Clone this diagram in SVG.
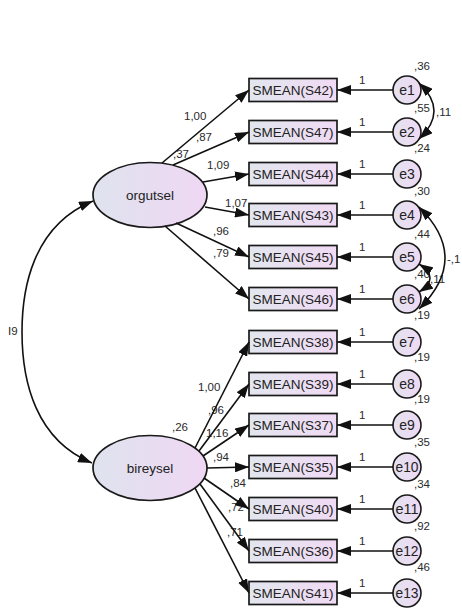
<svg xmlns="http://www.w3.org/2000/svg" width="462" height="613" viewBox="0 0 462 613">
<defs>
<linearGradient id="gb" x1="0" y1="0" x2="1" y2="0"><stop offset="0" stop-color="#e2e6ee"/><stop offset="1" stop-color="#f0daf4"/></linearGradient>
<linearGradient id="ge" x1="0" y1="0" x2="1" y2="0"><stop offset="0" stop-color="#dfe3ee"/><stop offset="1" stop-color="#efd7f4"/></linearGradient>
<linearGradient id="gc" x1="0" y1="0" x2="1" y2="0"><stop offset="0" stop-color="#e4e2f0"/><stop offset="1" stop-color="#eed9f3"/></linearGradient>
<marker id="ah" markerUnits="userSpaceOnUse" markerWidth="14" markerHeight="10" refX="14" refY="5" orient="auto-start-reverse"><path d="M0,0 L14,5 L0,10 z" fill="#111"/></marker>
<style>
.box{fill:url(#gb);stroke:#1a1a1a;stroke-width:1.7}
.lat{fill:url(#ge);stroke:#1a1a1a;stroke-width:1.7}
.err{fill:url(#gc);stroke:#1a1a1a;stroke-width:1.6}
.t{font-family:"Liberation Sans",Arial,sans-serif;font-size:13.5px;fill:#222;text-anchor:middle}
.e{font-family:"Liberation Sans",Arial,sans-serif;font-size:14px;fill:#222;text-anchor:middle}
.n{font-family:"Liberation Sans",Arial,sans-serif;font-size:11.5px;fill:#2a2a2a}
.a{fill:none;stroke:#111;stroke-width:1.6;marker-end:url(#ah)}
.d{fill:none;stroke:#111;stroke-width:1.6;marker-start:url(#ah);marker-end:url(#ah)}
</style>
</defs>
<rect width="462" height="613" fill="#ffffff"/>

<g id="orgutsel"><ellipse class="lat" cx="150" cy="195" rx="57" ry="32.5"/><text class="t" x="150" y="199.5">orgutsel</text></g>
<g id="bireysel"><ellipse class="lat" cx="150" cy="468" rx="57" ry="32.5"/><text class="t" x="150" y="472.5">bireysel</text></g>

<g id="S42"><rect class="box" x="249" y="78.5" width="88" height="23"/><text class="t" x="293" y="95">SMEAN(S42)</text></g>
<g id="S47"><rect class="box" x="249" y="120.5" width="88" height="23"/><text class="t" x="293" y="137">SMEAN(S47)</text></g>
<g id="S44"><rect class="box" x="249" y="162.5" width="88" height="23"/><text class="t" x="293" y="179">SMEAN(S44)</text></g>
<g id="S43"><rect class="box" x="249" y="203.5" width="88" height="23"/><text class="t" x="293" y="220">SMEAN(S43)</text></g>
<g id="S45"><rect class="box" x="249" y="245.5" width="88" height="23"/><text class="t" x="293" y="262">SMEAN(S45)</text></g>
<g id="S46"><rect class="box" x="249" y="287.5" width="88" height="23"/><text class="t" x="293" y="304">SMEAN(S46)</text></g>
<g id="S38"><rect class="box" x="249" y="330.5" width="88" height="23"/><text class="t" x="293" y="347">SMEAN(S38)</text></g>
<g id="S39"><rect class="box" x="249" y="372.5" width="88" height="23"/><text class="t" x="293" y="389">SMEAN(S39)</text></g>
<g id="S37"><rect class="box" x="249" y="413.5" width="88" height="23"/><text class="t" x="293" y="430">SMEAN(S37)</text></g>
<g id="S35"><rect class="box" x="249" y="455.5" width="88" height="23"/><text class="t" x="293" y="472">SMEAN(S35)</text></g>
<g id="S40"><rect class="box" x="249" y="497.5" width="88" height="23"/><text class="t" x="293" y="514">SMEAN(S40)</text></g>
<g id="S36"><rect class="box" x="249" y="539.5" width="88" height="23"/><text class="t" x="293" y="556">SMEAN(S36)</text></g>
<g id="S41"><rect class="box" x="249" y="581.5" width="88" height="23"/><text class="t" x="293" y="598">SMEAN(S41)</text></g>

<g id="e1"><circle class="err" cx="407" cy="90" r="14"/><text class="e" x="407" y="95">e1</text></g>
<g id="e2"><circle class="err" cx="407" cy="132" r="14"/><text class="e" x="407" y="137">e2</text></g>
<g id="e3"><circle class="err" cx="407" cy="174" r="14"/><text class="e" x="407" y="179">e3</text></g>
<g id="e4"><circle class="err" cx="407" cy="215" r="14"/><text class="e" x="407" y="220">e4</text></g>
<g id="e5"><circle class="err" cx="407" cy="257" r="14"/><text class="e" x="407" y="262">e5</text></g>
<g id="e6"><circle class="err" cx="407" cy="299" r="14"/><text class="e" x="407" y="304">e6</text></g>
<g id="e7"><circle class="err" cx="407" cy="342" r="14"/><text class="e" x="407" y="347">e7</text></g>
<g id="e8"><circle class="err" cx="407" cy="384" r="14"/><text class="e" x="407" y="389">e8</text></g>
<g id="e9"><circle class="err" cx="407" cy="425" r="14"/><text class="e" x="407" y="430">e9</text></g>
<g id="e10"><circle class="err" cx="407" cy="467" r="14"/><text class="e" x="407" y="472" textLength="23" lengthAdjust="spacingAndGlyphs">e10</text></g>
<g id="e11"><circle class="err" cx="407" cy="509" r="14"/><text class="e" x="407" y="514" textLength="23" lengthAdjust="spacingAndGlyphs">e11</text></g>
<g id="e12"><circle class="err" cx="407" cy="551" r="14"/><text class="e" x="407" y="556" textLength="23" lengthAdjust="spacingAndGlyphs">e12</text></g>
<g id="e13"><circle class="err" cx="407" cy="593" r="14"/><text class="e" x="407" y="598" textLength="23" lengthAdjust="spacingAndGlyphs">e13</text></g>

<g id="labels">
<text class="n" x="173" y="158">,37</text>
<text class="n" x="172" y="431">,26</text>
<text class="n" x="184" y="120">1,00</text>
<text class="n" x="196" y="141">,87</text>
<text class="n" x="207" y="169">1,09</text>
<text class="n" x="225" y="207">1,07</text>
<text class="n" x="213" y="235">,96</text>
<text class="n" x="213" y="257">,79</text>
<text class="n" x="198" y="391">1,00</text>
<text class="n" x="208" y="414">,96</text>
<text class="n" x="206" y="437">1,16</text>
<text class="n" x="213" y="461">,94</text>
<text class="n" x="230" y="487">,84</text>
<text class="n" x="228" y="511">,72</text>
<text class="n" x="227" y="536">,71</text>
<text class="n" x="8" y="335">I9</text>
<text class="n" x="414" y="70">,36</text>
<text class="n" x="414" y="112">,55</text>
<text class="n" x="414" y="152">,24</text>
<text class="n" x="414" y="195">,30</text>
<text class="n" x="414" y="238">,44</text>
<text class="n" x="414" y="278">,40</text>
<text class="n" x="414" y="319">,19</text>
<text class="n" x="414" y="361">,19</text>
<text class="n" x="414" y="403">,19</text>
<text class="n" x="414" y="446">,35</text>
<text class="n" x="414" y="488">,34</text>
<text class="n" x="414" y="530">,92</text>
<text class="n" x="414" y="571">,46</text>
<text class="n" x="436" y="116">,11</text>
<text class="n" x="430" y="283">,11</text>
<text class="n" x="447" y="263">-,1</text>
<text class="n" x="359" y="84">1</text>
<text class="n" x="359" y="126">1</text>
<text class="n" x="359" y="168">1</text>
<text class="n" x="359" y="209">1</text>
<text class="n" x="359" y="251">1</text>
<text class="n" x="359" y="293">1</text>
<text class="n" x="359" y="336">1</text>
<text class="n" x="359" y="378">1</text>
<text class="n" x="359" y="419">1</text>
<text class="n" x="359" y="461">1</text>
<text class="n" x="359" y="503">1</text>
<text class="n" x="359" y="545">1</text>
<text class="n" x="359" y="587">1</text>
</g>

<g id="connectors">
<path class="a" d="M162,163 L249,90"/>
<path class="a" d="M173,165 L249,132"/>
<path class="a" d="M203,182 L249,174"/>
<path class="a" d="M205,207 L249,215"/>
<path class="a" d="M176,223 L249,257"/>
<path class="a" d="M165,226 L249,299"/>
<path class="a" d="M195,448 L249,342"/>
<path class="a" d="M199,451 L249,384"/>
<path class="a" d="M203,456 L249,425"/>
<path class="a" d="M207,468 L249,467"/>
<path class="a" d="M204,478 L249,509"/>
<path class="a" d="M200,484 L249,551"/>
<path class="a" d="M195,488 L249,593"/>
<path class="a" d="M393,90 L337,90"/>
<path class="a" d="M393,132 L337,132"/>
<path class="a" d="M393,174 L337,174"/>
<path class="a" d="M393,215 L337,215"/>
<path class="a" d="M393,257 L337,257"/>
<path class="a" d="M393,299 L337,299"/>
<path class="a" d="M393,342 L337,342"/>
<path class="a" d="M393,384 L337,384"/>
<path class="a" d="M393,425 L337,425"/>
<path class="a" d="M393,467 L337,467"/>
<path class="a" d="M393,509 L337,509"/>
<path class="a" d="M393,551 L337,551"/>
<path class="a" d="M393,593 L337,593"/>
<path class="d" d="M93,201 C32,226 22,290 22,332 C22,382 36,440 92,463"/>
<path class="d" d="M419,83 Q449,111 419,139"/>
<path class="d" d="M419,207 Q471,258 419,309"/>
<path class="d" d="M419,264 Q441,278 419,292"/>
</g>
</svg>
